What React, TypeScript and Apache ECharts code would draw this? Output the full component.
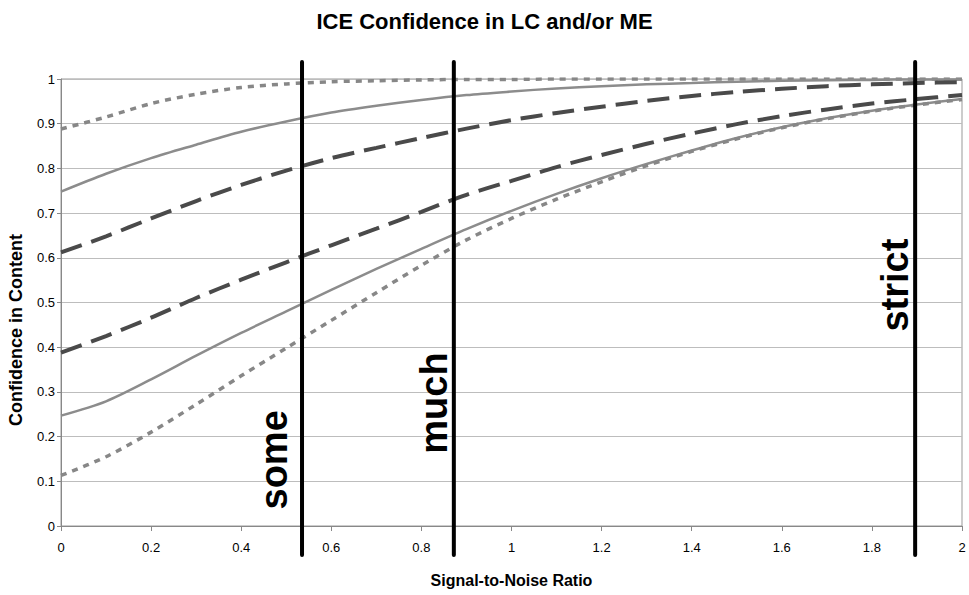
import { useEffect, useRef } from "react";
import * as echarts from "echarts";

// Signal-to-noise ratio sample points
const snr = [0, 0.1, 0.2, 0.3, 0.4, 0.5, 0.6, 0.7, 0.8, 0.9, 1.0, 1.1, 1.2, 1.3, 1.4, 1.5, 1.6, 1.7, 1.8, 1.9, 2.0];

// Confidence curves
const dottedHigh = [0.888, 0.915, 0.945, 0.966, 0.981, 0.989, 0.994, 0.996, 0.998, 0.999, 0.999, 1, 1, 1, 1, 1, 1, 1, 1, 1, 1];
const solidHigh = [0.748, 0.788, 0.823, 0.853, 0.882, 0.905, 0.925, 0.940, 0.953, 0.964, 0.972, 0.979, 0.984, 0.988, 0.991, 0.994, 0.996, 0.997, 0.998, 0.999, 0.999];
const dashedHigh = [0.612, 0.648, 0.688, 0.727, 0.763, 0.795, 0.823, 0.846, 0.868, 0.889, 0.908, 0.924, 0.938, 0.951, 0.962, 0.971, 0.978, 0.984, 0.988, 0.991, 0.993];
const dashedLow = [0.388, 0.425, 0.466, 0.510, 0.551, 0.590, 0.628, 0.665, 0.703, 0.741, 0.772, 0.803, 0.830, 0.855, 0.878, 0.899, 0.917, 0.932, 0.945, 0.955, 0.964];
const solidLow = [0.247, 0.279, 0.328, 0.381, 0.432, 0.480, 0.528, 0.575, 0.620, 0.664, 0.705, 0.743, 0.778, 0.810, 0.840, 0.868, 0.892, 0.912, 0.929, 0.943, 0.955];
const dottedLow = [0.113, 0.155, 0.210, 0.272, 0.336, 0.398, 0.460, 0.522, 0.583, 0.640, 0.688, 0.731, 0.770, 0.806, 0.838, 0.866, 0.891, 0.911, 0.928, 0.942, 0.954];

// Thresholds (vertical lines) with label position along the y value axis
const thresholdNames = ["some", "much", "strict"];
const thresholdX = [0.535, 0.872, 1.896];
const thresholdLabelY = [0.148, 0.275, 0.539];
const thresholdLabelGap = [28, 20, 20];

const FONT = "'Liberation Sans', Arial, sans-serif";
const LIGHT = "#878787";
const DARK = "#4a4a4a";

function pairs(ys: number[]) {
  return snr.map((x, i) => [x, ys[i]]);
}

export default function App() {
  const ref = useRef<HTMLDivElement>(null);

  useEffect(() => {
    if (!ref.current) return;
    const chart = echarts.init(ref.current, undefined, { renderer: "svg" });

    const curve = (name: string, ys: number[], color: string, width: number, type: any) => ({
      name,
      type: "line",
      data: pairs(ys),
      showSymbol: false,
      smooth: 0.3,
      lineStyle: { color, width, type, cap: "butt" },
    });

    chart.setOption({
      animation: false,
      title: {
        text: "ICE Confidence in LC and/or ME",
        left: "center",
        top: 10,
        padding: 0,
        textStyle: { fontFamily: FONT, fontSize: 22, fontWeight: "bold", color: "#000" },
      },
      grid: { left: 61, right: 7, top: 79, bottom: 69, show: true, borderColor: "#999", borderWidth: 1 },
      xAxis: {
        type: "value",
        min: 0,
        max: 2,
        interval: 0.2,
        name: "Signal-to-Noise Ratio",
        nameLocation: "middle",
        nameGap: 46,
        nameTextStyle: { fontFamily: FONT, fontSize: 16, fontWeight: "bold", color: "#000", verticalAlign: "top" },
        axisLine: { lineStyle: { color: "#888", width: 1 } },
        axisTick: { show: true, length: 5, lineStyle: { color: "#888" } },
        axisLabel: { fontFamily: FONT, fontSize: 13, color: "#000", margin: 15 },
        splitLine: { show: false },
      },
      yAxis: {
        type: "value",
        min: 0,
        max: 1,
        interval: 0.1,
        axisLine: { show: true, lineStyle: { color: "#888", width: 1 } },
        axisTick: { show: true, length: 4, lineStyle: { color: "#888" } },
        axisLabel: { fontFamily: FONT, fontSize: 13, color: "#000", margin: 6 },
        splitLine: { show: true, lineStyle: { color: "#bdbdbd", width: 1 } },
      },
      series: [
        curve("dottedHigh", dottedHigh, LIGHT, 3.5, [6, 6]),
        curve("solidHigh", solidHigh, "#8c8c8c", 2.5, "solid"),
        curve("dashedHigh", dashedHigh, DARK, 4, [22, 10]),
        curve("dashedLow", dashedLow, DARK, 4, [22, 10]),
        curve("solidLow", solidLow, "#8c8c8c", 2.5, "solid"),
        curve("dottedLow", dottedLow, LIGHT, 3.5, [6, 6]),
      ],
    });

    const top = chart.convertToPixel({ yAxisIndex: 0 }, 1) as number;
    const bottom = chart.convertToPixel({ yAxisIndex: 0 }, 0) as number;
    const graphics: any[] = [
      {
        type: "text",
        rotation: Math.PI / 2,
        x: 16,
        y: 330,
        style: {
          text: "Confidence in Content",
          fontFamily: FONT,
          fontSize: 18,
          fontWeight: "bold",
          fill: "#000",
          align: "center",
          verticalAlign: "middle",
        },
      },
    ];
    thresholdX.forEach((xv, i) => {
      const px = chart.convertToPixel({ xAxisIndex: 0 }, xv) as number;
      const py = chart.convertToPixel({ yAxisIndex: 0 }, thresholdLabelY[i]) as number;
      graphics.push({
        type: "line",
        shape: { x1: px, y1: top - 17, x2: px, y2: bottom + 29 },
        style: { stroke: "#000", lineWidth: 4, lineCap: "round" },
        z: 100,
      });
      graphics.push({
        type: "text",
        rotation: Math.PI / 2,
        x: px - thresholdLabelGap[i],
        y: py,
        style: {
          text: thresholdNames[i],
          fontFamily: FONT,
          fontSize: 38,
          fontWeight: "bold",
          fill: "#000",
          align: "center",
          verticalAlign: "middle",
        },
        z: 100,
      });
    });
    chart.setOption({ graphic: graphics });

    return () => chart.dispose();
  }, []);

  return <div ref={ref} style={{ width: 969, height: 595, position: "absolute", left: 0, top: 0 }} />;
}
